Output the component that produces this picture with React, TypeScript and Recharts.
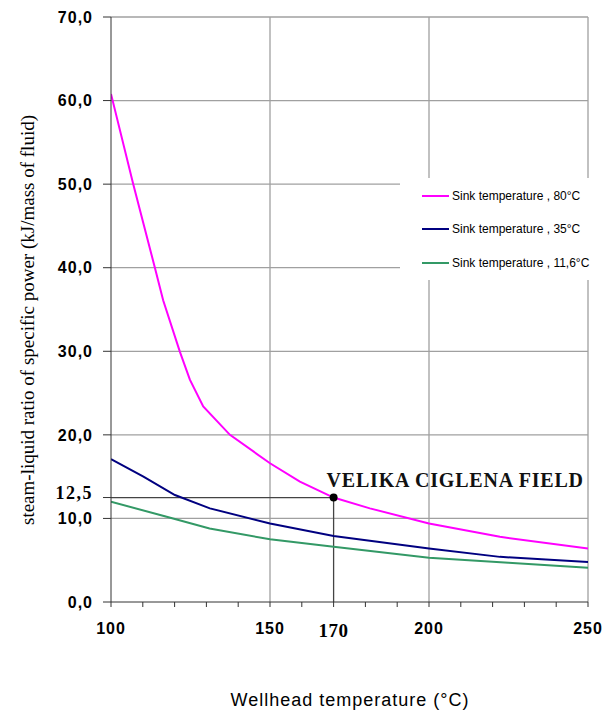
import { LineChart, Line, XAxis, YAxis, CartesianGrid, ReferenceLine, ReferenceDot, Label } from "recharts";

// wellhead temperature (°C) -> steam-liquid ratio of specific power
const sink80Temp = [100, 107, 113.8, 116.4, 121.7, 124.8, 129, 137.4, 150, 159.4, 170, 181.4, 200, 222.3, 250];
const sink80Value = [60.8, 50, 40, 36.1, 29.9, 26.6, 23.4, 20, 16.6, 14.4, 12.5, 11.2, 9.4, 7.8, 6.4];

const sink35Temp = [100, 110.2, 120.1, 131.1, 150, 170, 200, 222.3, 250];
const sink35Value = [17.1, 15.0, 12.8, 11.2, 9.4, 7.9, 6.4, 5.4, 4.8];

const sink11Temp = [100, 117.5, 131, 150, 170, 200, 225, 250];
const sink11Value = [12.0, 10.2, 8.8, 7.5, 6.6, 5.3, 4.7, 4.1];

const seriesNames = ["Sink temperature , 80°C", "Sink temperature , 35°C", "Sink temperature , 11,6°C"];
const seriesColors = ["#ff00ff", "#000080", "#339966"];

const xTicks = [100, 110, 120, 130, 140, 150, 160, 170, 180, 190, 200, 210, 220, 230, 240, 250];
const xLabelled = [100, 150, 200, 250];
const yTicks = [0, 10, 12.5, 20, 30, 40, 50, 60, 70];
const yGrid = [10, 20, 30, 40, 50, 60, 70];
const xGrid = [150, 200, 250];

const fieldTemp = 170;
const fieldValue = 12.5;

const toRows = (t: number[], v: number[]) => t.map((x, i) => ({ t: x, v: v[i] }));
const seriesData = [toRows(sink80Temp, sink80Value), toRows(sink35Temp, sink35Value), toRows(sink11Temp, sink11Value)];

const SANS = "'Liberation Sans', Arial, sans-serif";
const SERIF = "'Liberation Serif', 'Times New Roman', serif";

const fmt = (v: number) => v.toFixed(1).replace(".", ",");

function YTick({ x, y, payload }: any) {
  if (payload.value === fieldValue) {
    return (
      <text x={x} y={y} dy={1} textAnchor="end" fontFamily={SERIF} fontWeight="bold" fontSize={18} letterSpacing={1.5} fill="#000">
        {fmt(payload.value)}
      </text>
    );
  }
  return (
    <text x={x} y={y} dy="0.36em" textAnchor="end" fontFamily={SANS} fontWeight="bold" fontSize={16} letterSpacing={1} fill="#000">
      {fmt(payload.value)}
    </text>
  );
}

function XTick({ x, y, payload }: any) {
  if (payload.value === fieldTemp) {
    return (
      <text x={x} y={y} dy="0.72em" textAnchor="middle" fontFamily={SERIF} fontWeight="bold" fontSize={19} letterSpacing={0.5} fill="#000">
        {payload.value}
      </text>
    );
  }
  if (!xLabelled.includes(payload.value)) return <g />;
  return (
    <text x={x} y={y} dy="0.71em" textAnchor="middle" fontFamily={SANS} fontWeight="bold" fontSize={16} letterSpacing={1} fill="#000">
      {payload.value}
    </text>
  );
}

function LegendBox() {
  return (
    <div style={{ position: "absolute", left: 400, top: 178, width: 195, height: 102, background: "#fff" }}>
      {seriesNames.map((name, i) => (
        <div key={i} style={{ position: "absolute", left: 22, top: [18, 51, 85][i] - 8, height: 16, display: "flex", alignItems: "center" }}>
          <div style={{ width: 27, height: 2.5, background: seriesColors[i] }} />
          <span style={{ marginLeft: 3, fontFamily: SANS, fontSize: 12, color: "#000", whiteSpace: "nowrap" }}>{name}</span>
        </div>
      ))}
    </div>
  );
}

export default function App() {
  return (
    <div style={{ position: "absolute", left: 0, top: 0, width: 606, height: 714, background: "#fff" }}>
      <LineChart width={606} height={714} margin={{ top: 17, right: 18, left: 0, bottom: 0 }}>
        <CartesianGrid stroke="#a0a0a0" strokeWidth={1.3} horizontalValues={yGrid} verticalValues={xGrid} />
        <XAxis
          dataKey="t"
          type="number"
          domain={[100, 250]}
          ticks={xTicks}
          interval={0}
          height={112}
          tickSize={5}
          tickMargin={16}
          tick={<XTick />}
          stroke="#333"
          tickLine={{ stroke: "#333" }}
          allowDataOverflow
        >
          <Label
            content={() => (
              <text x={350} y={706} textAnchor="middle" fontFamily={SANS} fontSize={18} letterSpacing={1} fill="#000">
                Wellhead temperature (°C)
              </text>
            )}
          />
        </XAxis>
        <YAxis
          type="number"
          domain={[0, 70]}
          ticks={yTicks}
          interval={0}
          width={111}
          tickSize={8}
          tickMargin={10}
          tick={<YTick />}
          stroke="#333"
          tickLine={{ stroke: "#333" }}
        >
          <Label
            content={() => (
              <text x={27} y={320} transform="rotate(-90, 27, 320)" textAnchor="middle" dominantBaseline="central" fontFamily={SERIF} fontSize={19} fill="#000">
                steam-liquid ratio of specific power (kJ/mass of fluid)
              </text>
            )}
          />
        </YAxis>
        <ReferenceLine
          segment={[{ x: 100, y: fieldValue }, { x: fieldTemp, y: fieldValue }]}
          stroke="#444"
          strokeWidth={1.3}
        />
        <ReferenceLine
          segment={[{ x: fieldTemp, y: 0 }, { x: fieldTemp, y: fieldValue }]}
          stroke="#444"
          strokeWidth={1.3}
        />
        {seriesData.map((rows, i) => (
          <Line
            key={i}
            data={rows}
            dataKey="v"
            name={seriesNames[i]}
            stroke={seriesColors[i]}
            strokeWidth={2}
            dot={false}
            isAnimationActive={false}
          />
        ))}
        <ReferenceDot
          x={fieldTemp}
          y={fieldValue}
          r={4}
          fill="#000"
          stroke="none"
          label={{
            content: ({ viewBox }: any) => (
              <text
                x={(viewBox?.x ?? 0) - 3}
                y={(viewBox?.y ?? 0) - 7}
                fontFamily={SERIF}
                fontWeight="bold"
                fontSize={20}
                letterSpacing={0.8}
                fill="#111"
              >
                VELIKA CIGLENA FIELD
              </text>
            ),
          }}
        />
      </LineChart>
      <LegendBox />
    </div>
  );
}
